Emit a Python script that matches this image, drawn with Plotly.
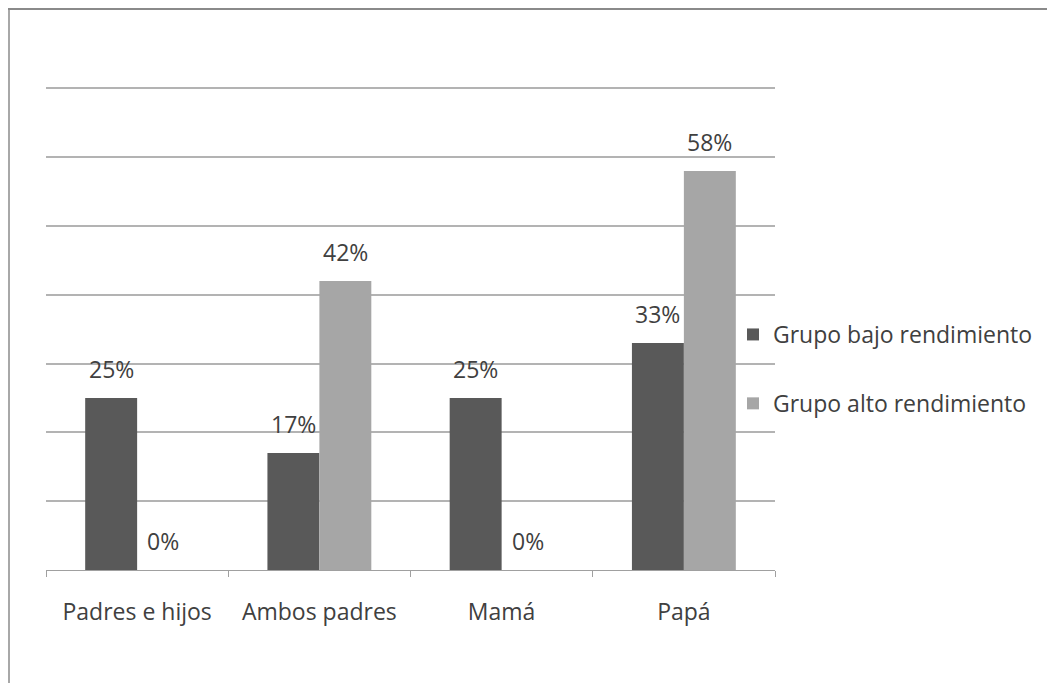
import plotly.graph_objects as go

categories = ["Padres e hijos", "Ambos padres", "Mamá", "Papá"]
bajo = [25, 17, 25, 33]
alto = [0, 42, 0, 58]
series_names = ["Grupo bajo rendimiento", "Grupo alto rendimiento"]
tick_vals = [0, 10, 20, 30, 40, 50, 60, 70]

W, H = 1047, 675
L, R, T, B = 38, 280, 77, 113
pw, ph = W - L - R, H - T - B

font_fam = "Open Sans, Liberation Sans, sans-serif"
txt_col = "#404040"
colors = ["#595959", "#A6A6A6"]
bargap = 0.43
bar_px = pw / len(categories) * (1 - bargap) / 2

fig = go.Figure()
for name, vals, col, grp in [(series_names[0], bajo, colors[0], "a"),
                              (series_names[1], alto, colors[1], "b")]:
    fig.add_trace(go.Bar(
        x=categories, y=vals, name=name, marker_color=col, marker_line_width=0,
        legendgroup=grp, hoverinfo="x+y",
    ))

annotations = []
for vals, sign in [(bajo, -1), (alto, 1)]:
    for c, v in zip(categories, vals):
        annotations.append(dict(
            x=c, y=v, xref="x", yref="y", text=f"{v}%", showarrow=False,
            xanchor="center", yanchor="bottom", xshift=sign * bar_px / 2,
            yshift=11, font=dict(size=23, color=txt_col, family=font_fam),
        ))

def px_x(px):
    return (px - L) / pw

def px_y(py):
    return (H - B - py) / ph

fig.update_layout(
    width=W, height=H,
    margin=dict(l=L, r=R, t=T, b=B),
    paper_bgcolor="white", plot_bgcolor="white",
    barmode="group", bargap=bargap, bargroupgap=0,
    font=dict(family=font_fam, color=txt_col, size=23),
    showlegend=True,
    legend=dict(x=px_x(725), y=px_y(305), xanchor="left", yanchor="top",
                tracegroupgap=36, font=dict(size=23, color=txt_col),
                itemwidth=30, bgcolor="rgba(0,0,0,0)"),
    xaxis=dict(showline=True, linecolor="#a0a0a0", linewidth=1,
               ticks="outside", ticklen=6, tickcolor="#a0a0a0",
               tickson="boundaries", showgrid=False, ticklabelstandoff=21,
               tickfont=dict(size=23, color=txt_col, family=font_fam)),
    yaxis=dict(range=[0, 70.5], tickvals=tick_vals, showticklabels=False,
               showgrid=True, gridcolor="#b3b3b3", gridwidth=1.5,
               zeroline=False, showline=False),
    annotations=annotations,
    shapes=[
        dict(type="line", xref="paper", yref="paper",
             x0=px_x(1), x1=px_x(1), y0=px_y(1), y1=px_y(H + 5),
             line=dict(color="#a8a8a8", width=2)),
        dict(type="line", xref="paper", yref="paper",
             x0=px_x(-3), x1=px_x(W + 5), y0=px_y(1), y1=px_y(1),
             line=dict(color="#8a8a8a", width=2)),
    ],
)

fig.write_html("out.html")
